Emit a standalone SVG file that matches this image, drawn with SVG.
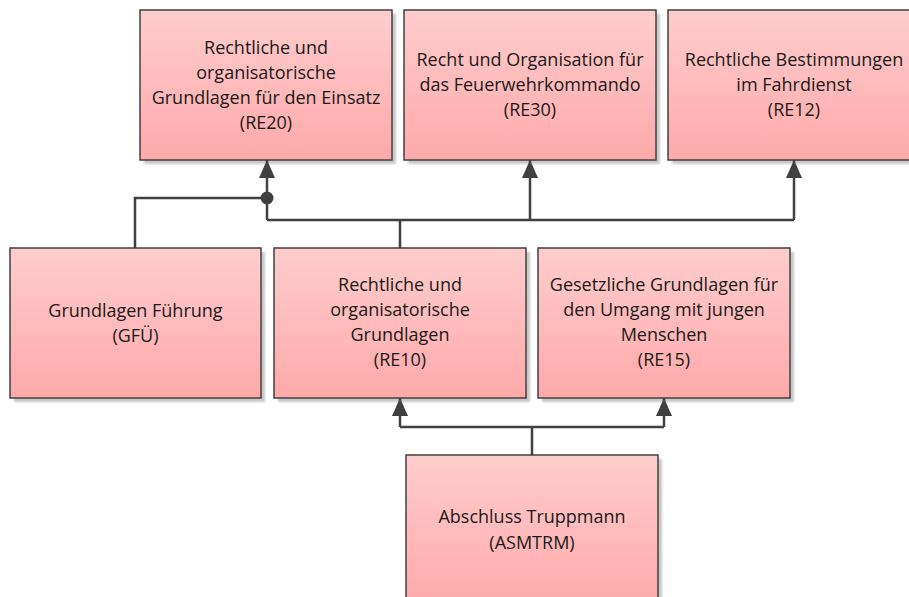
<svg xmlns="http://www.w3.org/2000/svg" width="909" height="597" viewBox="0 0 909 597">
<defs>
<linearGradient id="g" x1="0" y1="0" x2="0" y2="1">
<stop offset="0" stop-color="#FFCDCD"/>
<stop offset="1" stop-color="#FFA9A9"/>
</linearGradient>
<filter id="sh" x="-5%" y="-5%" width="115%" height="115%">
<feGaussianBlur stdDeviation="1.2"/>
</filter>
<marker id="arr" markerUnits="userSpaceOnUse" markerWidth="18" markerHeight="16" refX="18" refY="8" orient="auto" viewBox="0 0 18 16">
<path d="M0,0 L18,8 L0,16 Z" fill="#404040"/>
</marker>
</defs>
<style>
.box{fill:url(#g);stroke:#404040;stroke-width:1.5}
.shadow{fill:#c8c8c8;filter:url(#sh)}
.t{font-family:"Open Sans","Liberation Sans",sans-serif;font-size:18px;fill:#1a1a1a;text-anchor:middle}
.c{fill:none;stroke:#404040;stroke-width:2.5}
.a{marker-end:url(#arr)}
</style>
<rect width="909" height="597" fill="#ffffff"/>

<g id="RE20">
<rect class="shadow" x="144" y="14" width="252" height="150"/>
<rect class="box" x="140" y="10" width="252" height="150"/>
<text class="t" x="266" y="54">Rechtliche und</text>
<text class="t" x="266" y="79">organisatorische</text>
<text class="t" x="266" y="104">Grundlagen für den Einsatz</text>
<text class="t" x="266" y="129">(RE20)</text>
</g>
<g id="RE30">
<rect class="shadow" x="408" y="14" width="252" height="150"/>
<rect class="box" x="404" y="10" width="252" height="150"/>
<text class="t" x="530" y="66">Recht und Organisation für</text>
<text class="t" x="530" y="91">das Feuerwehrkommando</text>
<text class="t" x="530" y="116">(RE30)</text>
</g>
<g id="RE12">
<rect class="shadow" x="672" y="14" width="252" height="150"/>
<rect class="box" x="668" y="10" width="252" height="150"/>
<text class="t" x="794" y="66">Rechtliche Bestimmungen</text>
<text class="t" x="794" y="91">im Fahrdienst</text>
<text class="t" x="794" y="116">(RE12)</text>
</g>
<g id="GFU">
<rect class="shadow" x="14" y="252" width="251" height="150"/>
<rect class="box" x="10" y="248" width="251" height="150"/>
<text class="t" x="135.5" y="317">Grundlagen Führung</text>
<text class="t" x="135.5" y="342">(GFÜ)</text>
</g>
<g id="RE10">
<rect class="shadow" x="278" y="252" width="252" height="150"/>
<rect class="box" x="274" y="248" width="252" height="150"/>
<text class="t" x="400" y="291">Rechtliche und</text>
<text class="t" x="400" y="316">organisatorische</text>
<text class="t" x="400" y="341">Grundlagen</text>
<text class="t" x="400" y="366">(RE10)</text>
</g>
<g id="RE15">
<rect class="shadow" x="542" y="252" width="252" height="150"/>
<rect class="box" x="538" y="248" width="252" height="150"/>
<text class="t" x="664" y="291">Gesetzliche Grundlagen für</text>
<text class="t" x="664" y="316">den Umgang mit jungen</text>
<text class="t" x="664" y="341">Menschen</text>
<text class="t" x="664" y="366">(RE15)</text>
</g>
<g id="ASMTRM">
<rect class="shadow" x="410" y="459" width="252" height="151"/>
<rect class="box" x="406" y="455" width="252" height="151"/>
<text class="t" x="532" y="523">Abschluss Truppmann</text>
<text class="t" x="532" y="549">(ASMTRM)</text>
</g>

<g id="connectors">
<path class="c" d="M135,248 V198 H267"/>
<path class="c" d="M400,248 V220"/>
<path class="c" d="M267,220 H794"/>
<path class="c a" d="M267,220 V160"/>
<path class="c a" d="M530,220 V160"/>
<path class="c a" d="M794,220 V160"/>
<circle cx="267" cy="198" r="6.5" fill="#404040"/>
<path class="c" d="M532,455 V427"/>
<path class="c" d="M400,427 H664"/>
<path class="c a" d="M400,427 V398"/>
<path class="c a" d="M664,427 V398"/>
</g>
</svg>
